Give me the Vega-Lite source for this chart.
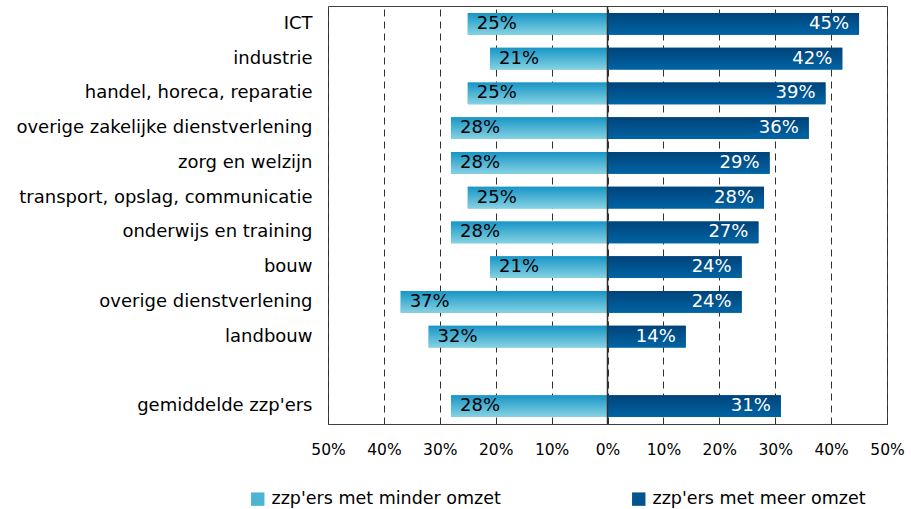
{
  "$schema": "https://vega.github.io/schema/vega-lite/v6.json",
  "autosize": "none",
  "width": 559,
  "height": 418,
  "padding": {"left": 328, "top": 6, "right": 24, "bottom": 85},
  "background": "white",
  "config": {
    "font": "DejaVu Sans",
    "view": {"stroke": "#404040", "strokeWidth": 1}
  },
  "data": {
    "values": [
      {"cat": "ICT", "serie": "zzp'ers met minder omzet", "value": -25, "label": "25%"},
      {"cat": "ICT", "serie": "zzp'ers met meer omzet", "value": 45, "label": "45%"},
      {"cat": "industrie", "serie": "zzp'ers met minder omzet", "value": -21, "label": "21%"},
      {"cat": "industrie", "serie": "zzp'ers met meer omzet", "value": 42, "label": "42%"},
      {"cat": "handel, horeca, reparatie", "serie": "zzp'ers met minder omzet", "value": -25, "label": "25%"},
      {"cat": "handel, horeca, reparatie", "serie": "zzp'ers met meer omzet", "value": 39, "label": "39%"},
      {"cat": "overige zakelijke dienstverlening", "serie": "zzp'ers met minder omzet", "value": -28, "label": "28%"},
      {"cat": "overige zakelijke dienstverlening", "serie": "zzp'ers met meer omzet", "value": 36, "label": "36%"},
      {"cat": "zorg en welzijn", "serie": "zzp'ers met minder omzet", "value": -28, "label": "28%"},
      {"cat": "zorg en welzijn", "serie": "zzp'ers met meer omzet", "value": 29, "label": "29%"},
      {"cat": "transport, opslag, communicatie", "serie": "zzp'ers met minder omzet", "value": -25, "label": "25%"},
      {"cat": "transport, opslag, communicatie", "serie": "zzp'ers met meer omzet", "value": 28, "label": "28%"},
      {"cat": "onderwijs en training", "serie": "zzp'ers met minder omzet", "value": -28, "label": "28%"},
      {"cat": "onderwijs en training", "serie": "zzp'ers met meer omzet", "value": 27, "label": "27%"},
      {"cat": "bouw", "serie": "zzp'ers met minder omzet", "value": -21, "label": "21%"},
      {"cat": "bouw", "serie": "zzp'ers met meer omzet", "value": 24, "label": "24%"},
      {"cat": "overige dienstverlening", "serie": "zzp'ers met minder omzet", "value": -37, "label": "37%"},
      {"cat": "overige dienstverlening", "serie": "zzp'ers met meer omzet", "value": 24, "label": "24%"},
      {"cat": "landbouw", "serie": "zzp'ers met minder omzet", "value": -32, "label": "32%"},
      {"cat": "landbouw", "serie": "zzp'ers met meer omzet", "value": 14, "label": "14%"},
      {"cat": "gemiddelde zzp'ers", "serie": "zzp'ers met minder omzet", "value": -28, "label": "28%"},
      {"cat": "gemiddelde zzp'ers", "serie": "zzp'ers met meer omzet", "value": 31, "label": "31%"}
    ]
  },
  "encoding": {
    "y": {
      "field": "cat",
      "type": "nominal",
      "title": null,
      "sort": null,
      "scale": {
        "domain": ["ICT", "industrie", "handel, horeca, reparatie", "overige zakelijke dienstverlening", "zorg en welzijn", "transport, opslag, communicatie", "onderwijs en training", "bouw", "overige dienstverlening", "landbouw", " ", "gemiddelde zzp'ers"],
        "paddingInner": 0.37,
        "paddingOuter": 0.2
      },
      "axis": {
        "domain": false,
        "ticks": false,
        "labelPadding": 16,
        "labelFontSize": 18,
        "labelLimit": 400,
        "labelColor": "#000000",
        "labelFont": "DejaVu Sans"
      }
    },
    "x": {
      "field": "value",
      "type": "quantitative",
      "title": null,
      "scale": {"domain": [-50, 50], "nice": false},
      "axis": {
        "values": [-50, -40, -30, -20, -10, 0, 10, 20, 30, 40, 50],
        "labelExpr": "abs(datum.value) + '%'",
        "domain": false,
        "ticks": false,
        "grid": true,
        "gridColor": "#303030",
        "gridDash": [7, 5],
        "gridOpacity": 1,
        "gridWidth": 1,
        "labelPadding": 18,
        "labelFontSize": 15.5,
        "labelColor": "#000000",
        "labelFont": "DejaVu Sans",
        "labelFlush": false
      }
    }
  },
  "layer": [
    {
      "mark": {"type": "bar"},
      "encoding": {
        "color": {
          "field": "serie",
          "type": "nominal",
          "title": null,
          "scale": {
            "domain": ["zzp'ers met minder omzet", "zzp'ers met meer omzet"],
            "range": ["#4fb4d4", "#005490"]
          },
          "legend": {
            "orient": "none",
            "legendX": -79,
            "legendY": 484,
            "direction": "horizontal",
            "columns": 2,
            "columnPadding": 129,
            "symbolType": "square",
            "symbolSize": 180,
            "symbolStrokeWidth": 0,
            "labelFontSize": 17.5,
            "labelFont": "DejaVu Sans",
            "labelColor": "#000000",
            "labelLimit": 400,
            "labelOffset": 5
          }
        }
      }
    },
    {
      "transform": [{"filter": "datum.value < 0"}],
      "mark": {"type": "bar", "color": {"gradient": "linear", "x1": 0, "y1": 0, "x2": 0, "y2": 1, "stops": [{"offset": 0, "color": "#1795c6"}, {"offset": 1, "color": "#86d2e2"}]}}
    },
    {
      "transform": [{"filter": "datum.value > 0"}],
      "mark": {"type": "bar", "color": {"gradient": "linear", "x1": 0, "y1": 0, "x2": 0, "y2": 1, "stops": [{"offset": 0, "color": "#00437a"}, {"offset": 1, "color": "#0064a4"}]}}
    },
    {
      "transform": [{"filter": "datum.value < 0"}],
      "mark": {"type": "text", "align": "left", "baseline": "middle", "dx": 9, "fontSize": 18, "color": "#000000", "font": "DejaVu Sans"},
      "encoding": {"text": {"field": "label", "type": "nominal"}}
    },
    {
      "transform": [{"filter": "datum.value > 0"}],
      "mark": {"type": "text", "align": "right", "baseline": "middle", "dx": -10, "fontSize": 18, "color": "#ffffff", "font": "DejaVu Sans"},
      "encoding": {"text": {"field": "label", "type": "nominal"}}
    },
    {
      "data": {"values": [{"zero": 0}]},
      "mark": {"type": "rule", "color": "#303030", "strokeWidth": 1.5},
      "encoding": {"x": {"field": "zero", "type": "quantitative"}, "y": null}
    }
  ]
}
